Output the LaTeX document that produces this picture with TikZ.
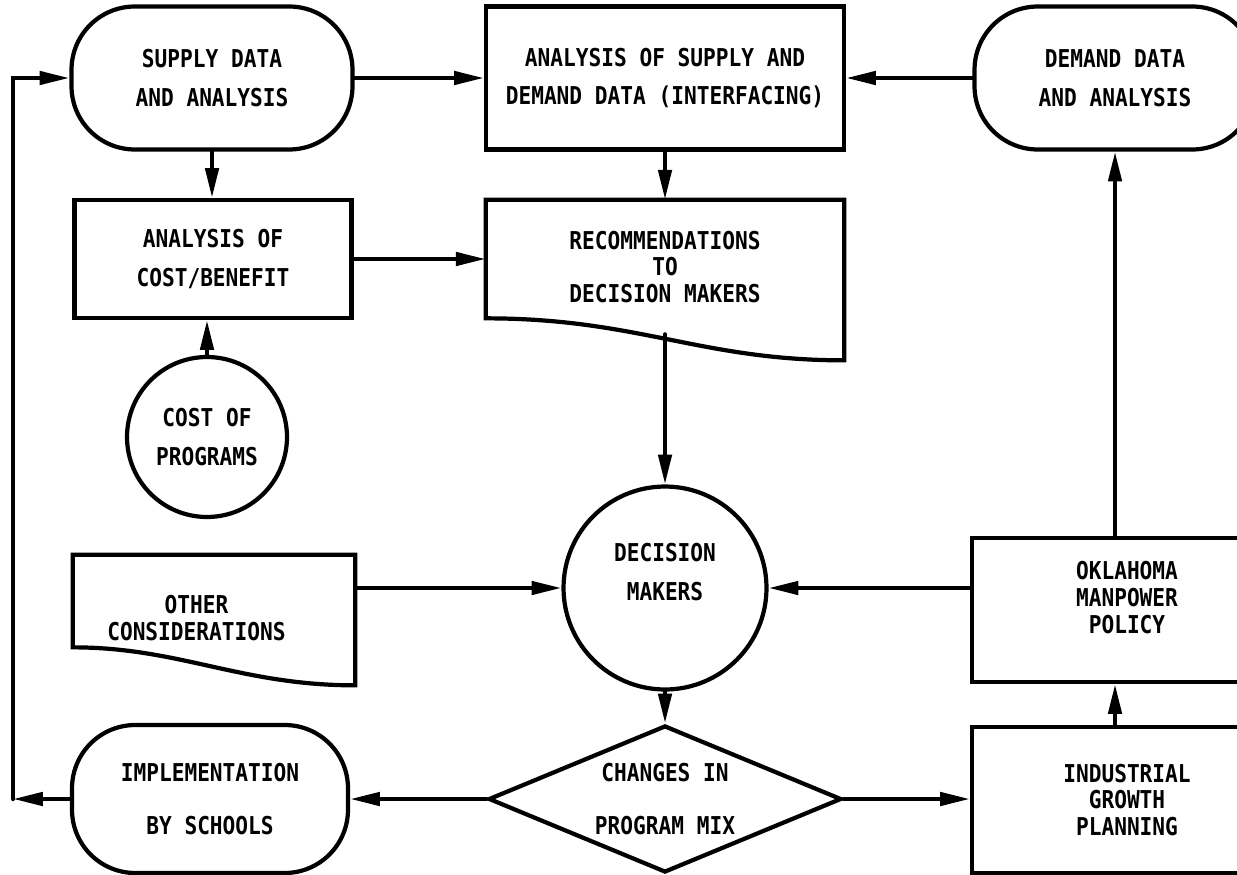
\documentclass[tikz,border=0pt]{standalone}
\usepackage{fontspec}
\setmonofont[FakeStretch=0.86]{DejaVu Sans Mono}
\usetikzlibrary{arrows.meta,shapes.geometric,calc}

\begin{document}
\begin{tikzpicture}
	[x=0.02cm,y=-0.02cm,line cap=round,
	%Styles
	flow/.style={line width=2.4pt},
	arr/.style={flow,-{Triangle[length=17pt,width=7.5pt]}},
	box/.style={draw,flow,rectangle,inner sep=0pt},
	term/.style={box,rounded corners=36pt},
	docbox/.style={rectangle,inner sep=0pt},
	disc/.style={draw,flow,circle,inner sep=0pt},
	choice/.style={draw,flow,diamond,aspect=2.4,inner sep=0pt},
	tight/.style={align=center,font=\ttfamily\bfseries\fontsize{14}{15.3}\selectfont},
	loose/.style={align=center,font=\ttfamily\bfseries\fontsize{14}{22}\selectfont},
	wide/.style={align=center,font=\ttfamily\bfseries\fontsize{14}{30}\selectfont}
	]

	%Frame
	\useasboundingbox (0,0) rectangle (1237,875);
	\clip (0,0) rectangle (1237,875);
	\fill[white] (0,0) rectangle (1237,875);

	%Top row
	\node[term,loose,minimum width=5.62cm,minimum height=2.86cm] (supply) at (212,78) {SUPPLY DATA\\AND ANALYSIS};
	\node[box,loose,minimum width=7.16cm,minimum height=2.86cm] (interf) at (665,78) {ANALYSIS OF SUPPLY AND\\DEMAND DATA (INTERFACING)};
	\node[term,loose,minimum width=5.62cm,minimum height=2.86cm] (demand) at (1115,78) {DEMAND DATA\\AND ANALYSIS};

	%Second row
	\node[box,loose,minimum width=5.54cm,minimum height=2.36cm] (costben) at (213,259) {ANALYSIS OF\\COST/BENEFIT};
	\node[docbox,tight,minimum width=7.16cm,minimum height=2.68cm] (recomm) at (665,267) {RECOMMENDATIONS\\TO\\DECISION MAKERS};
	\draw[flow] ($(recomm.south west)+(0,-16)$) -- (recomm.north west) -- (recomm.north east)
		-- ($(recomm.south east)+(0,26)$) .. controls +(-145,0) and +(153,0) .. ($(recomm.south west)+(0,-16)$) -- cycle;

	%Middle
	\node[disc,loose,minimum size=3.2cm] (costprog) at (207,437) {COST OF\\PROGRAMS};
	\node[disc,minimum size=4.06cm,label={[name=decidetxt,loose,yshift=9pt]center:{DECISION\\MAKERS}}] (decide) at (665,588) {};
	\node[docbox,minimum width=5.64cm,minimum height=2.52cm,label={[name=othertxt,tight,xshift=-10pt]center:{OTHER\\CONSIDERATIONS}}] (other) at (214,618) {};
	\draw[flow] ($(other.south west)+(0,-34)$) -- (other.north west) -- (other.north east)
		-- ($(other.south east)+(0,4)$) .. controls +(-115,0) and +(107,0) .. ($(other.south west)+(0,-34)$) -- cycle;
	\node[box,minimum width=6.2cm,minimum height=2.88cm,label={[name=policytxt,tight,yshift=7pt]center:{OKLAHOMA\\MANPOWER\\POLICY}}] (policy) at (1127,610) {};

	%Bottom row
	\node[term,wide,minimum width=5.52cm,minimum height=2.96cm] (schools) at (210,799) {IMPLEMENTATION\\BY SCHOOLS};
	\node[choice,wide,minimum width=7.06cm,minimum height=2.94cm] (mix) at (665,799) {CHANGES IN\\PROGRAM MIX};
	\node[box,tight,minimum width=6.2cm,minimum height=2.92cm] (growth) at (1127,800) {INDUSTRIAL\\GROWTH\\PLANNING};

	%Connectors
	\draw[arr] (supply) -- (interf);
	\draw[arr] (demand) -- (interf);
	\draw[arr] (supply.south) -- (supply.south |- costben.north);
	\draw[arr] (interf) -- (recomm);
	\draw[arr] (costben) -- (costben -| recomm.west);
	\draw[arr] (costprog) -- (costprog |- costben.south);
	\draw[arr] (recomm.south) -- (decide);
	\draw[arr] (other.east |- decide) -- (decide);
	\draw[arr] (policy.west |- decide) -- (decide);
	\draw[arr] (policy.north -| demand) -- (demand);
	\draw[arr] (growth.north -| demand) -- (policy.south -| demand);
	\draw[arr] (decide) -- (mix);
	\draw[arr] (mix) -- (mix -| growth.west);
	\draw[arr] (mix) -- (schools);
	\coordinate (back) at (13,799);
	\draw[arr] (schools) -- (back);
	\draw[arr] (back) |- (supply);
\end{tikzpicture}
\end{document}
